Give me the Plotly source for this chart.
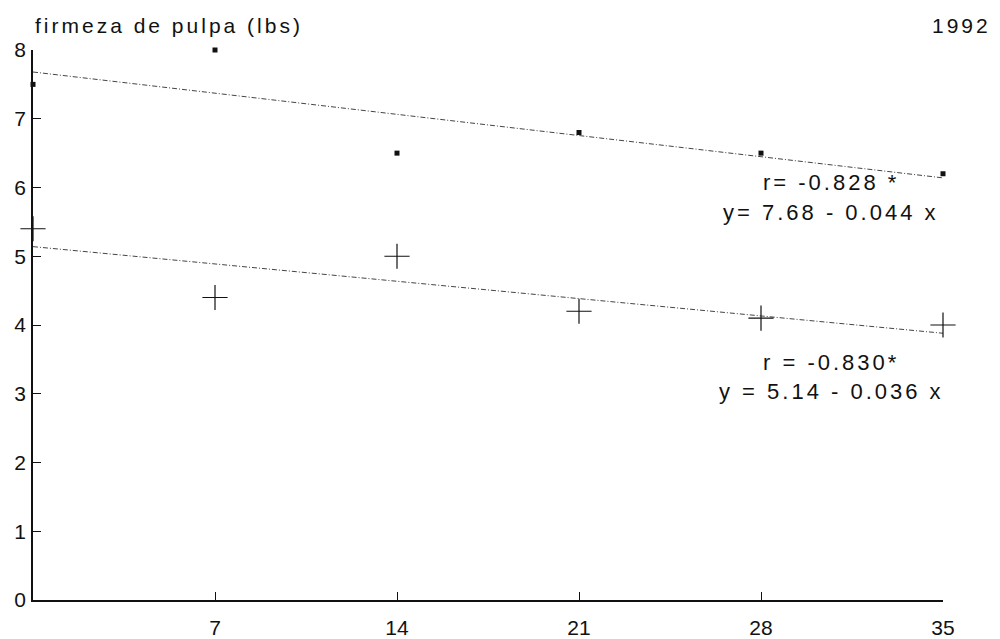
import plotly.graph_objects as go

days = [0, 7, 14, 21, 28, 35]
firmeza_a = [7.5, 8.0, 6.5, 6.8, 6.5, 6.2]
firmeza_b = [5.4, 4.4, 5.0, 4.2, 4.1, 4.0]

# fitted lines as printed on the chart: y = a + b x
fit_a = (7.68, -0.044)
fit_b = (5.14, -0.036)
fit_x = [0, 35]

x_ticks = [7, 14, 21, 28, 35]
y_ticks = [0, 1, 2, 3, 4, 5, 6, 7, 8]

label_a = ["r= -0.828 *", "y= 7.68 - 0.044 x"]
label_b = ["r = -0.830*", "y = 5.14 - 0.036 x"]

FONT = "Liberation Sans, Arial, sans-serif"
INK = "#111111"


def spaced(t, px=3):
    return '<span style="letter-spacing:%dpx">%s</span>' % (px, t)


fig = go.Figure()

for a, b in (fit_a, fit_b):
    fig.add_trace(go.Scatter(
        x=fit_x, y=[a + b * v for v in fit_x],
        mode="lines", line=dict(color="#444444", width=1, dash="5px,2px,1px,2px"),
        cliponaxis=False, showlegend=False, hoverinfo="skip"))

fig.add_trace(go.Scatter(
    x=days, y=firmeza_a, mode="markers",
    marker=dict(symbol="square", size=5, color=INK),
    cliponaxis=False, showlegend=False))
fig.add_trace(go.Scatter(
    x=days, y=firmeza_b, mode="markers",
    marker=dict(symbol="cross-thin", size=18, color=INK,
                line=dict(color=INK, width=1.2)),
    cliponaxis=False, showlegend=False))

annotations = [
    dict(text=spaced("firmeza de pulpa (lbs)"), xref="paper", yref="paper",
         x=0.0, y=1.045, xanchor="left", yanchor="middle", showarrow=False,
         font=dict(size=21, family=FONT, color=INK)),
    dict(text=spaced("1992"), xref="paper", yref="paper",
         x=1.055, y=1.045, xanchor="right", yanchor="middle", showarrow=False,
         font=dict(size=21, family=FONT, color=INK)),
]
for txt, yv in ((label_a[0], 6.07), (label_a[1], 5.64), (label_b[0], 3.46), (label_b[1], 3.04)):
    annotations.append(dict(text=spaced(txt), x=30.7, y=yv, xref="x", yref="y",
                            showarrow=False, xanchor="center", yanchor="middle",
                            font=dict(size=22, family=FONT, color=INK)))

fig.update_layout(
    width=1000, height=639,
    margin=dict(l=33, r=57, t=50, b=39, autoexpand=False),
    paper_bgcolor="white", plot_bgcolor="white",
    font=dict(family=FONT, color=INK, size=20),
    annotations=annotations,
    xaxis=dict(range=[0, 35], tickvals=x_ticks, ticktext=[str(v) for v in x_ticks],
               ticks="inside", ticklen=8, tickcolor=INK, tickwidth=1,
               showline=True, linecolor=INK, linewidth=1.5, showgrid=False,
               zeroline=False, tickfont=dict(size=21), ticklabelstandoff=8),
    yaxis=dict(range=[0, 8], tickvals=y_ticks, ticks="inside", ticklen=8,
               tickcolor=INK, tickwidth=1, showline=True, linecolor=INK,
               linewidth=1.5, showgrid=False, zeroline=False,
               tickfont=dict(size=21), ticklabelstandoff=1),
)

fig.write_html("out.html", config={"displayModeBar": False},
               post_script="document.body.style.margin='0';document.body.style.overflow='hidden';")
